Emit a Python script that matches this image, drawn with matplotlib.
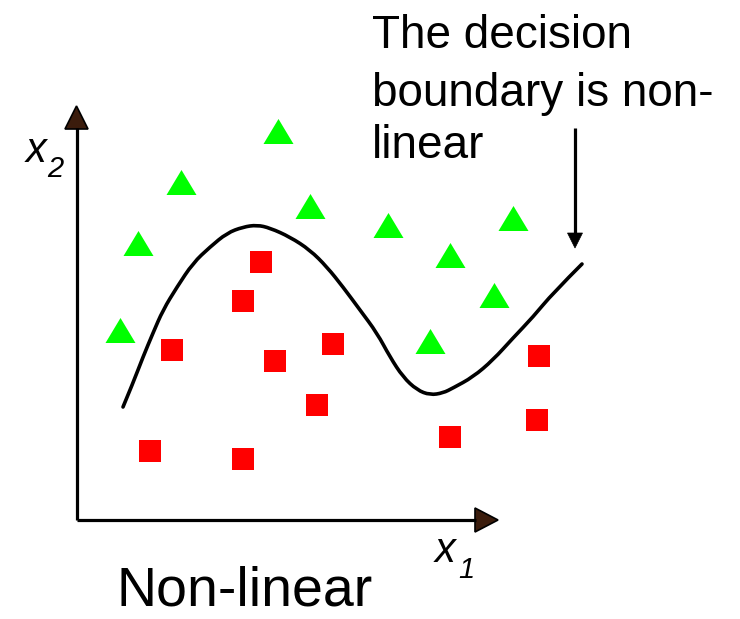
import matplotlib.pyplot as plt
from matplotlib.path import Path
from matplotlib.patches import PathPatch

plt.rcParams['font.family'] = 'Liberation Sans'

# Clase 1: triángulos verdes (coordenadas del dibujo, y hacia abajo)
tri_x = [278, 181, 310, 388, 138, 450, 513, 494, 120, 430]
tri_y = [131, 182, 206, 225, 243, 255, 218, 295, 330, 341]

# Clase 2: cuadrados rojos
sq_x = [261, 243, 172, 275, 333, 317, 539, 537, 450, 150, 243]
sq_y = [262, 301, 350, 361, 344, 405, 356, 420, 437, 451, 459]

# frontera de decisión (no lineal)
curva_x = [123, 133, 143, 153, 163, 177, 193, 210, 227, 243, 257, 270, 290,
           310, 327, 343, 360, 377, 390, 403, 417, 430, 443, 453, 473, 493,
           513, 533, 553, 582]
curva_y = [407, 383, 357, 333, 310, 287, 263, 247, 233, 227, 225, 228, 237,
           250, 267, 287, 310, 333, 357, 377, 390, 395, 393, 388, 377, 360,
           338, 317, 293, 264]

lineas_texto = ['The decision', 'boundary is non-', 'linear']
base_texto = [48, 106, 158]

fig = plt.figure(figsize=(7.4, 6.19), dpi=100)
ax = fig.add_axes([0, 0, 1, 1])
ax.set_xlim(0, 740)
ax.set_ylim(619, 0)
ax.axis('off')

# ejes con flecha
ax.plot([77, 77], [520, 128], color='black', lw=2.3, solid_capstyle='butt')
ax.plot([77, 476], [520, 520], color='black', lw=2.3, solid_capstyle='butt')
ax.fill([65, 88, 76.5], [129, 129, 106], facecolor='#3b1c0c', edgecolor='black', lw=1.2)
ax.fill([475, 475, 498], [508, 532, 520], facecolor='#3b1c0c', edgecolor='black', lw=1.2)

tri = [(-15, -12.5), (15, -12.5), (0, 12.5)]
ax.plot(tri_x, tri_y, linestyle='none', marker=tri, markersize=21.6,
        color='#00ff00', markeredgewidth=0)
ax.plot(sq_x, sq_y, linestyle='none', marker='s', markersize=15.8,
        color='#ff0000', markeredgewidth=0)

# curva suavizada con curvas cuadráticas entre puntos medios
pts = list(zip(curva_x, curva_y))
verts = [pts[0]]
codes = [Path.MOVETO]
for i in range(1, len(pts) - 1):
    medio = ((pts[i][0] + pts[i + 1][0]) / 2, (pts[i][1] + pts[i + 1][1]) / 2)
    if i == len(pts) - 2:
        medio = pts[-1]
    verts += [pts[i], medio]
    codes += [Path.CURVE3, Path.CURVE3]
ax.add_patch(PathPatch(Path(verts, codes), facecolor='none', edgecolor='black',
                       lw=2.6, capstyle='round'))

# flecha hacia la curva
ax.plot([575, 575], [128, 236], color='black', lw=2.3, solid_capstyle='butt')
ax.fill([567.5, 582.5, 575], [233, 233, 248], facecolor='black', edgecolor='black', lw=0.5)

# etiquetas de ejes
ax.text(26, 162, 'x', fontsize=30, style='italic', ha='left', va='baseline')
ax.text(47, 177, '2', fontsize=21, style='italic', ha='left', va='baseline')
ax.text(435, 562, 'x', fontsize=30, style='italic', ha='left', va='baseline')
ax.text(458, 578, '1', fontsize=21, style='italic', ha='left', va='baseline')

ax.text(245, 606, 'Non-linear', fontsize=40, ha='center', va='baseline')
for linea, yb in zip(lineas_texto, base_texto):
    ax.text(372, yb, linea, fontsize=33, ha='left', va='baseline')

fig.savefig('out.png', dpi=100)
